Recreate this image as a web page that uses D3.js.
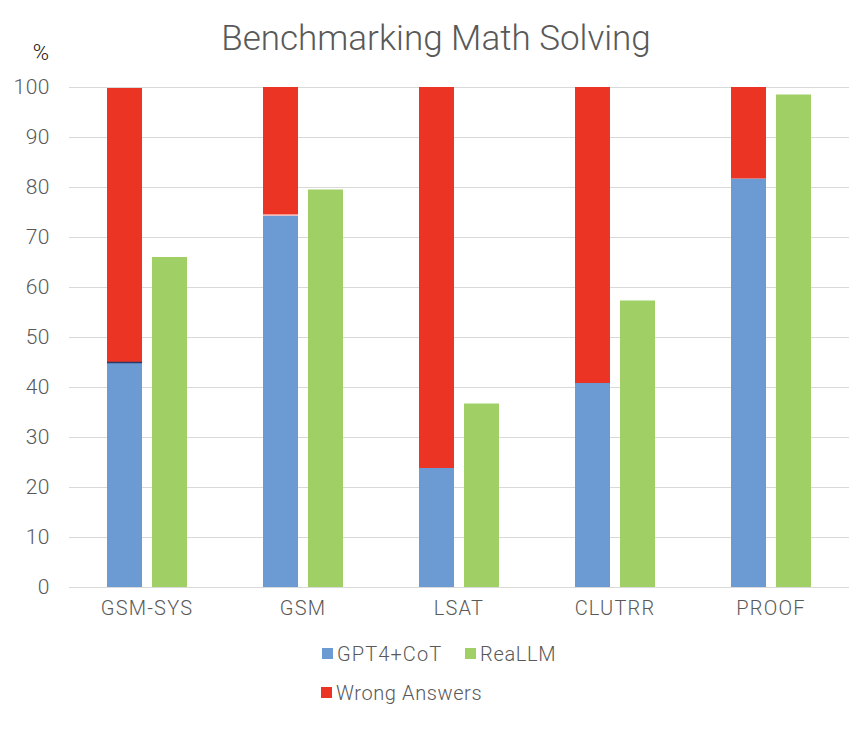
<!DOCTYPE html>
<html>
<head>
<meta charset="utf-8">
<script src="https://cdn.jsdelivr.net/npm/d3@7"></script>
<style>
  html, body { margin: 0; padding: 0; background: #fff; }
  text { font-family: Roboto, "Noto Sans", sans-serif; font-weight: 300; fill: #595959; }
</style>
</head>
<body>
<svg id="chart" width="862" height="738"></svg>
<script>
var categories = ['GSM-SYS', 'GSM', 'LSAT', 'CLUTRR', 'PROOF'];
var gptCot = [44.8, 74.3, 23.8, 40.8, 81.7];
var wrongAnswers = [55, 25.7, 76.2, 59.2, 18.3];
var reaLLM = [66, 79.5, 36.7, 57.3, 98.5];
var yTicks = [0, 10, 20, 30, 40, 50, 60, 70, 80, 90, 100];

var blue = '#6b9bd2', red = '#ec3424', green = '#a0cf65';
var labelFont = 'Roboto, "Noto Sans", sans-serif';

var svg = d3.select('#chart');

var x = d3.scaleBand().domain(categories).range([69, 849]);
var side = d3.scaleBand().domain(['stack', 'real']).range([38, 118]).paddingInner(0.222);
var y = d3.scaleLinear().domain([0, 100]).range([587, 87]);

// grid
svg.append('g').selectAll('line').data(yTicks).join('line')
    .attr('x1', 69).attr('x2', 849)
    .attr('y1', function(d) { return y(d) + 0.5; })
    .attr('y2', function(d) { return y(d) + 0.5; })
    .attr('stroke', '#d9d9d9').attr('stroke-width', 1);

// y axis
var yAxis = svg.append('g').attr('transform', 'translate(51,0)')
    .call(d3.axisLeft(y).tickValues(yTicks).tickSize(0).tickPadding(1));
yAxis.select('.domain').remove();
yAxis.selectAll('text')
    .style('font-size', '21px').style('font-family', labelFont).style('font-weight', 300)
    .style('letter-spacing', '0.5px');

// x axis
var xAxis = svg.append('g').attr('transform', 'translate(0,587)')
    .call(d3.axisBottom(x).tickSize(0).tickPadding(14));
xAxis.select('.domain').remove();
xAxis.selectAll('text')
    .style('font-size', '20px').style('font-family', labelFont).style('font-weight', 300)
    .style('letter-spacing', '1.2px');

// stacked bars
var rows = categories.map(function(c, i) {
    return { cat: c, gpt: gptCot[i], wrong: wrongAnswers[i], real: reaLLM[i] };
});
var stack = d3.stack().keys(['gpt', 'wrong'])(rows);
var stackColors = { gpt: blue, wrong: red };

stack.forEach(function(layer) {
    svg.append('g').selectAll('rect').data(layer).join('rect')
        .attr('x', function(d) { return x(d.data.cat) + side('stack'); })
        .attr('width', side.bandwidth())
        .attr('y', function(d) { return y(d[1]); })
        .attr('height', function(d) { return y(d[0]) - y(d[1]); })
        .attr('fill', stackColors[layer.key]);
});

// separators seen on top of the blue segments
svg.append('line')
    .attr('x1', x('GSM-SYS') + side('stack')).attr('x2', x('GSM-SYS') + side('stack') + side.bandwidth())
    .attr('y1', y(gptCot[0]) - 0.5).attr('y2', y(gptCot[0]) - 0.5)
    .attr('stroke', '#2a3a6b').attr('stroke-width', 1.5);
svg.append('line')
    .attr('x1', x('GSM') + side('stack')).attr('x2', x('GSM') + side('stack') + side.bandwidth())
    .attr('y1', y(gptCot[1]) - 0.5).attr('y2', y(gptCot[1]) - 0.5)
    .attr('stroke', '#ffffff').attr('stroke-width', 1);

// green bars
svg.append('g').selectAll('rect').data(rows).join('rect')
    .attr('x', function(d) { return x(d.cat) + side('real'); })
    .attr('width', side.bandwidth())
    .attr('y', function(d) { return y(d.real); })
    .attr('height', function(d) { return y(0) - y(d.real); })
    .attr('fill', green);

// title and unit
svg.append('text').attr('x', 436).attr('y', 50).attr('text-anchor', 'middle')
    .style('font-size', '35px').text('Benchmarking Math Solving');
svg.append('text').attr('x', 41).attr('y', 60).attr('text-anchor', 'middle')
    .style('font-size', '22px').style('fill', '#111').text('%');

// legend
var legendItems = [
    { label: 'GPT4+CoT', color: blue, sx: 322, tx: 337, ty: 661, gap: '1.1px' },
    { label: 'ReaLLM', color: green, sx: 465, tx: 480, ty: 661, gap: '0.7px' },
    { label: 'Wrong Answers', color: red, sx: 321, tx: 336, ty: 700, gap: '0.6px' }
];
var legend = svg.append('g').selectAll('g').data(legendItems).join('g');
legend.append('rect')
    .attr('x', function(d) { return d.sx; })
    .attr('y', function(d) { return d.ty - 13; })
    .attr('width', 11).attr('height', 11)
    .attr('fill', function(d) { return d.color; });
legend.append('text')
    .attr('x', function(d) { return d.tx; })
    .attr('y', function(d) { return d.ty; })
    .style('font-size', '20px')
    .style('letter-spacing', function(d) { return d.gap; })
    .text(function(d) { return d.label; });
</script>
</body>
</html>
